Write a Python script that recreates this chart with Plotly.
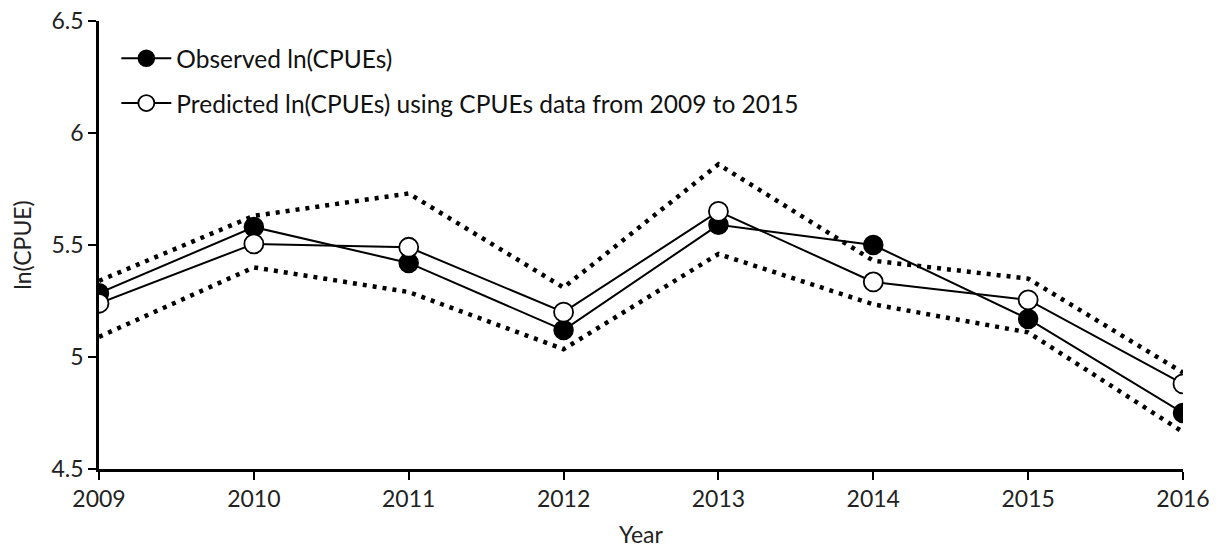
import plotly.graph_objects as go

years = [2009, 2010, 2011, 2012, 2013, 2014, 2015, 2016]
observed = [5.285, 5.58, 5.42, 5.12, 5.59, 5.50, 5.17, 4.75]
predicted = [5.24, 5.505, 5.49, 5.20, 5.65, 5.335, 5.255, 4.88]
upper = [5.34, 5.63, 5.73, 5.31, 5.86, 5.43, 5.35, 4.93]
lower = [5.09, 5.40, 5.29, 5.035, 5.46, 5.235, 5.11, 4.665]

y_ticks = [4.5, 5, 5.5, 6, 6.5]
y_tick_labels = ["4.5", "5", "5.5", "6", "6.5"]

FONT = "Lato"

fig = go.Figure()
for band in (upper, lower):
    fig.add_trace(go.Scatter(x=years, y=band, mode="lines", showlegend=False,
                             line=dict(color="black", width=4.5, dash="4px,6px"),
                             hoverinfo="skip"))
fig.add_trace(go.Scatter(x=years, y=observed, mode="lines+markers",
                         name="Observed ln(CPUEs)", legendgroup="a",
                         line=dict(color="black", width=2),
                         marker=dict(size=19, color="black", line=dict(color="black", width=1.5))))
fig.add_trace(go.Scatter(x=years, y=predicted, mode="lines+markers",
                         name="Predicted ln(CPUEs) using CPUEs data from 2009 to 2015", legendgroup="b",
                         line=dict(color="black", width=2),
                         marker=dict(size=19, color="white", line=dict(color="black", width=1.8))))

fig.update_layout(
    width=1218, height=548,
    margin=dict(l=99, r=35, t=21, b=79),
    paper_bgcolor="white", plot_bgcolor="white",
    font=dict(family=FONT, size=23, color="#222"),
    showlegend=True,
    legend=dict(x=0.016, y=0.967, xanchor="left", yanchor="top",
                font=dict(family=FONT, size=24.5, color="#111"),
                bgcolor="rgba(0,0,0,0)", tracegroupgap=10, itemwidth=50),
    xaxis=dict(range=[2009, 2016], tickmode="array", tickvals=years,
               ticktext=[str(y) for y in years], automargin=False,
               showgrid=False, zeroline=False, showline=True, linecolor="black", linewidth=2.5,
               ticks="outside", ticklen=8, tickwidth=2, tickcolor="black",
               title=dict(text="Year", font=dict(size=23), standoff=16),
               tickfont=dict(size=23), ticklabeloverflow="allow"),
    yaxis=dict(range=[4.5, 6.5], tickmode="array", tickvals=y_ticks, ticktext=y_tick_labels,
               automargin=False,
               showgrid=False, zeroline=False, showline=True, linecolor="black", linewidth=2.5,
               ticks="outside", ticklen=8, tickwidth=2, tickcolor="black",
               title=dict(text="ln(CPUE)", font=dict(size=23), standoff=14),
               tickfont=dict(size=23), ticklabeloverflow="allow"),
)

fig.write_html("out.html", config={"displayModeBar": False},
               post_script="document.body.style.margin='0';")
